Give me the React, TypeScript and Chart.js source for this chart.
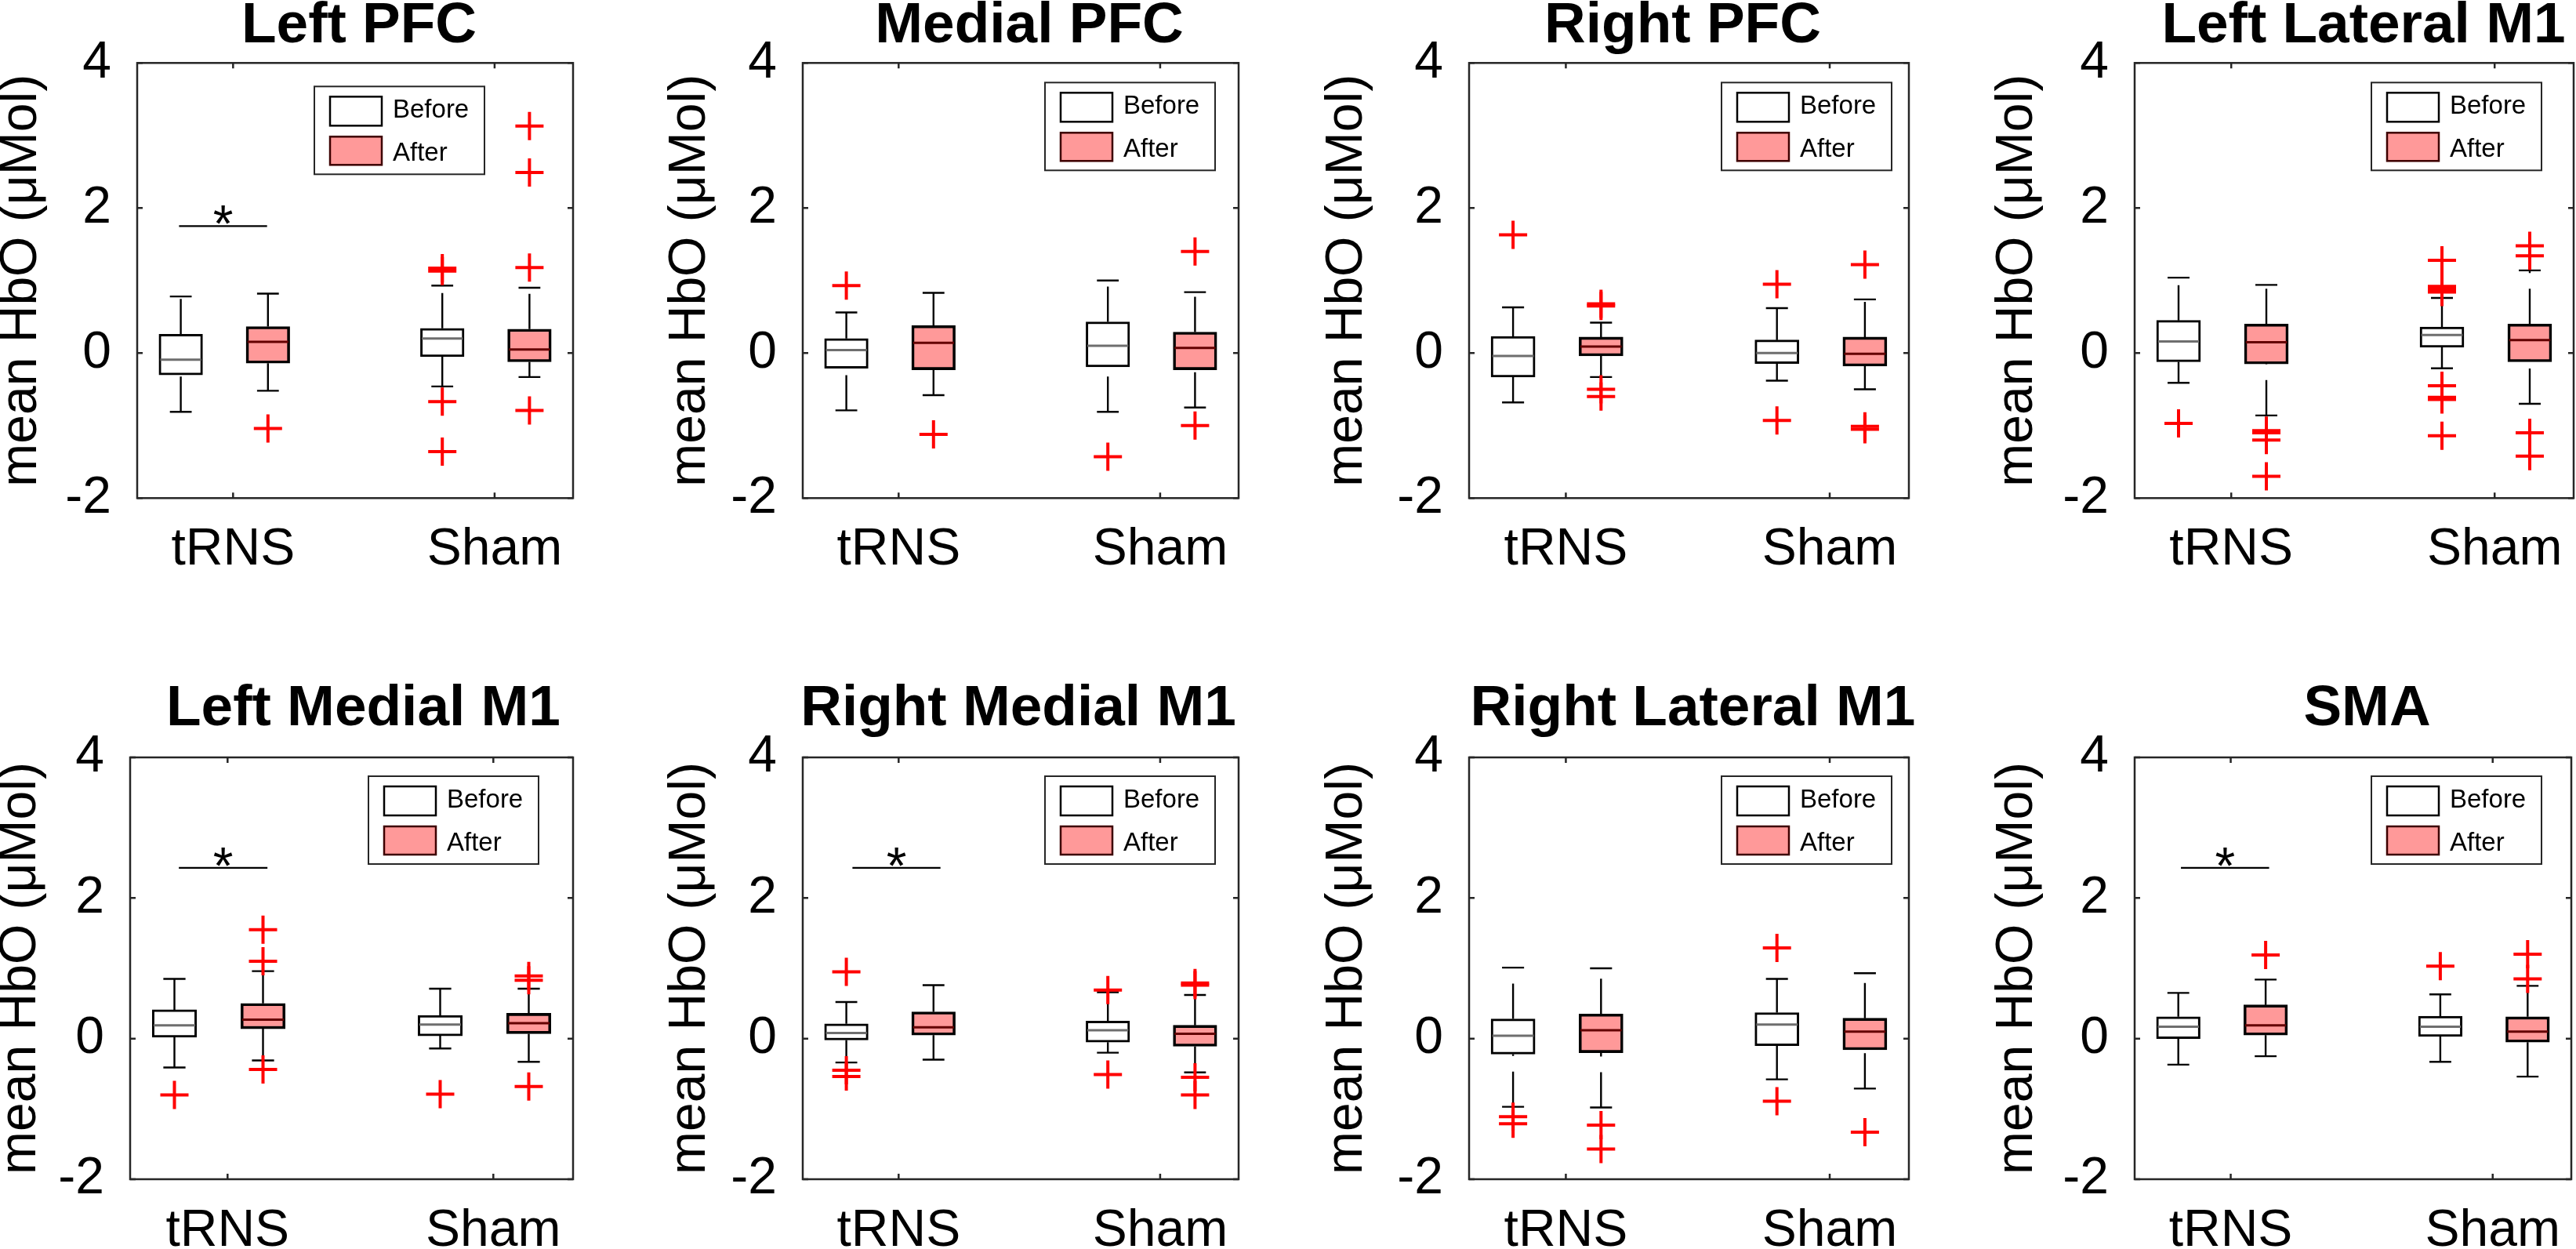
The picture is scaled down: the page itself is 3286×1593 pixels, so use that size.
import React, { useEffect, useRef } from 'react';
import { Chart, registerables } from 'chart.js';

Chart.register(...registerables);

const FONT = '"Liberation Sans", Arial, Helvetica, sans-serif';

// ---------------- data ----------------
const regions = [
  'Left PFC', 'Medial PFC', 'Right PFC', 'Left Lateral M1',
  'Left Medial M1', 'Right Medial M1', 'Right Lateral M1', 'SMA',
];
const groups = ['tRNS', 'Sham'];
const groupTicks = [1.6, 4.6];
const seriesNames = ['Before', 'After'];
const yLabel = 'mean HbO (μMol)';
// box order inside each region: tRNS-Before, tRNS-After, Sham-Before, Sham-After
const boxPositions = [1, 2, 4, 5];
const boxSeries = [0, 1, 0, 1];

const lowerWhisker = [
  [-0.81, -0.52, -0.46, -0.33],
  [-0.79, -0.58, -0.81, -0.75],
  [-0.68, -0.33, -0.38, -0.50],
  [-0.41, -0.86, -0.21, -0.70],
  [-0.41, -0.31, -0.14, -0.33],
  [-0.34, -0.30, -0.20, -0.48],
  [-0.97, -0.98, -0.58, -0.71],
  [-0.37, -0.25, -0.33, -0.54],
];
const q1 = [
  [-0.30, -0.14, -0.05, -0.12],
  [-0.21, -0.23, -0.19, -0.23],
  [-0.33, -0.04, -0.145, -0.18],
  [-0.12, -0.15, 0.08, -0.12],
  [0.02, 0.14, 0.04, 0.07],
  [-0.02, 0.05, -0.05, -0.11],
  [-0.22, -0.20, -0.10, -0.16],
  [0.00, 0.05, 0.03, -0.05],
];
const median = [
  [-0.09, 0.155, 0.20, 0.05],
  [0.04, 0.14, 0.10, 0.07],
  [-0.04, 0.09, 0.00, -0.01],
  [0.16, 0.15, 0.25, 0.18],
  [0.19, 0.27, 0.20, 0.22],
  [0.08, 0.16, 0.12, 0.07],
  [0.04, 0.12, 0.20, 0.10],
  [0.17, 0.19, 0.17, 0.10],
];
const q3 = [
  [0.26, 0.365, 0.34, 0.33],
  [0.20, 0.38, 0.43, 0.29],
  [0.23, 0.22, 0.18, 0.22],
  [0.45, 0.40, 0.36, 0.40],
  [0.41, 0.50, 0.33, 0.36],
  [0.21, 0.38, 0.25, 0.19],
  [0.28, 0.35, 0.37, 0.29],
  [0.31, 0.48, 0.32, 0.31],
];
const upperWhisker = [
  [0.78, 0.82, 0.93, 0.90],
  [0.56, 0.83, 1.00, 0.84],
  [0.63, 0.42, 0.62, 0.74],
  [1.04, 0.94, 0.76, 1.14],
  [0.85, 0.96, 0.71, 0.71],
  [0.52, 0.76, 0.66, 0.62],
  [1.01, 1.00, 0.85, 0.93],
  [0.65, 0.84, 0.63, 0.75],
];
const outliers = [
  [[], [-1.04], [1.17, 1.13, -0.67, -1.36], [3.13, 2.49, 1.18, -0.79]],
  [[0.93], [-1.12], [-1.43], [1.40, -1.00]],
  [[1.63], [0.68, 0.65, -0.50, -0.60], [0.95, -0.93], [1.22, -1.01, -1.05]],
  [[-0.97], [-1.07, -1.10, -1.20, -1.70], [1.28, 0.92, 0.88, 0.84, -0.45, -0.61, -0.64, -1.14], [1.48, 1.34, -1.10, -1.42]],
  [[-0.80], [1.55, 1.10, -0.44], [-0.79], [0.89, 0.83, -0.68]],
  [[0.95, -0.45, -0.54], [], [0.69, -0.51], [0.79, 0.76, -0.55, -0.80]],
  [[-1.11, -1.21], [-1.23, -1.57], [1.29, -0.89], [-1.33]],
  [[], [1.19], [1.03], [1.20, 0.85]],
];
// significance bar (tRNS Before vs After)
const sigLevel = [1.75, null, null, null, 2.43, 2.43, null, 2.43];
const sigFrom = [0.98, null, null, null, 1.05, 1.07, null, 1.03];
const sigTo = [1.99, null, null, null, 2.05, 2.08, null, 2.04];

// ---------------- layout / style ----------------
const AXES_X = [
  [175, 731], [1024, 1580], [1874, 2435], [2723, 3283],
  [166, 731], [1024, 1580], [1874, 2435], [2723, 3280],
];
const ROWS = [
  { canvasTop: -20, canvasH: 800, axTop: 80.3, axBottom: 635.3, titleBaseline: 59 },
  { canvasTop: 820, canvasH: 773, axTop: 966, axBottom: 1504, titleBaseline: 930 },
];
const TITLE_SHIFT = [5, 11, -8, 12, 15, -3, 5, 18];
const YLABEL_OFFSET = [147, 143, 155, 149, 139, 143, 155, 149];
const LEGEND_POS = [[113, 30], [30, 25], [22, 25], [41, 25], [44, 24], [30, 24], [22, 24], [38, 24]];
const Y_AXIS_W = 200;
const TICK_SIZE = 66;
const TITLE_SIZE = 73;
const AFTER_FILL = '#FF9999';
const MEDIAN_COLORS = ['#6e6e6e', '#640000'];
const BOX_FILLS = ['#FFFFFF', AFTER_FILL];
const BOX_BORDER_W = [3, 3.6];
const AXIS_COLOR = '#262626';

function geometry(i: number) {
  const row = ROWS[i < 4 ? 0 : 1];
  const [L, R] = AXES_X[i];
  const rightW = Y_AXIS_W + 2 * TITLE_SHIFT[i];
  const canvasLeft = L - Y_AXIS_W;
  const canvasW = R - L + Y_AXIS_W + rightW;
  const titleLH = TITLE_SIZE * 1.2;
  const titleMid = row.titleBaseline - 0.3465 * TITLE_SIZE - row.canvasTop;
  const titlePadTop = titleMid - titleLH / 2;
  const titlePadBottom = row.axTop - row.canvasTop - titlePadTop - titleLH;
  const xAxisH = row.canvasTop + row.canvasH - row.axBottom;
  const yTitlePad = Y_AXIS_W - (TICK_SIZE * 1.2) / 2 - YLABEL_OFFSET[i];
  return {
    canvasLeft, canvasW, canvasTop: row.canvasTop, canvasH: row.canvasH, rightW,
    titlePadTop, titlePadBottom, xAxisH, yTitlePad, barThickness: (R - L) / 10,
  };
}

const matlabPlugin = {
  id: 'matlab',
  afterDatasetsDraw(chart: any, _args: any, opts: any) {
    const { ctx, chartArea: a, scales } = chart;
    const x = scales.x;
    const y = scales.y;
    ctx.save();
    // significance asterisk
    if (opts.sigLevel !== null && opts.sigLevel !== undefined) {
      const cx = x.getPixelForValue((opts.sigFrom + opts.sigTo) / 2);
      const cy = y.getPixelForValue(opts.sigLevel);
      ctx.fillStyle = '#000';
      ctx.font = `${TICK_SIZE}px ${FONT}`;
      ctx.textAlign = 'center';
      ctx.textBaseline = 'alphabetic';
      ctx.fillText('*', cx, cy + 20);
    }
    // axes frame
    ctx.strokeStyle = AXIS_COLOR;
    ctx.lineWidth = 2.5;
    ctx.setLineDash([]);
    ctx.strokeRect(a.left, a.top, a.right - a.left, a.bottom - a.top);
    // inward ticks
    ctx.beginPath();
    x.ticks.forEach((t: any) => {
      const px = x.getPixelForValue(t.value);
      ctx.moveTo(px, a.bottom); ctx.lineTo(px, a.bottom - 7);
      ctx.moveTo(px, a.top); ctx.lineTo(px, a.top + 7);
    });
    y.ticks.forEach((t: any) => {
      const py = y.getPixelForValue(t.value);
      ctx.moveTo(a.left, py); ctx.lineTo(a.left + 7, py);
      ctx.moveTo(a.right, py); ctx.lineTo(a.right - 7, py);
    });
    ctx.stroke();
    // legend
    const LW = 217, LH = 112;
    const lx = a.right - opts.legendRight - LW;
    const ly = a.top + opts.legendTop;
    ctx.fillStyle = '#fff';
    ctx.fillRect(lx, ly, LW, LH);
    ctx.lineWidth = 2;
    ctx.strokeStyle = AXIS_COLOR;
    ctx.strokeRect(lx, ly, LW, LH);
    ctx.lineWidth = 2.5;
    ctx.fillStyle = BOX_FILLS[0];
    ctx.fillRect(lx + 20, ly + 13, 66, 37);
    ctx.strokeStyle = '#000';
    ctx.strokeRect(lx + 20, ly + 13, 66, 37);
    ctx.fillStyle = BOX_FILLS[1];
    ctx.fillRect(lx + 20, ly + 64, 66, 36);
    ctx.strokeStyle = '#3d0000';
    ctx.strokeRect(lx + 20, ly + 64, 66, 36);
    ctx.fillStyle = '#000';
    ctx.font = `33px ${FONT}`;
    ctx.textAlign = 'left';
    ctx.textBaseline = 'alphabetic';
    ctx.fillText(seriesNames[0], lx + 100, ly + 40);
    ctx.fillText(seriesNames[1], lx + 100, ly + 95);
    ctx.restore();
  },
};

function buildConfig(i: number, g: ReturnType<typeof geometry>) {
  const datasets: any[] = [];
  const gap = (c: number) => ({ x: c, y: null });
  for (let s = 0; s < 2; s++) {
    const idx = [0, 1, 2, 3].filter((b) => boxSeries[b] === s);
    // boxes
    datasets.push({
      type: 'bar',
      label: seriesNames[s],
      data: idx.map((b) => ({ x: boxPositions[b], y: [q1[i][b], q3[i][b]] })),
      backgroundColor: BOX_FILLS[s],
      borderColor: '#000',
      borderWidth: BOX_BORDER_W[s],
      borderSkipped: false,
      grouped: false,
      barThickness: g.barThickness,
      order: 10,
    });
    // whiskers (dashed, drawn from low value to high value)
    const wPts: any[] = [];
    const cPts: any[] = [];
    const mPts: any[] = [];
    idx.forEach((b) => {
      const c = boxPositions[b];
      wPts.push({ x: c, y: q3[i][b] }, { x: c, y: upperWhisker[i][b] }, gap(c));
      wPts.push({ x: c, y: lowerWhisker[i][b] }, { x: c, y: q1[i][b] }, gap(c));
      cPts.push({ x: c - 0.125, y: upperWhisker[i][b] }, { x: c + 0.125, y: upperWhisker[i][b] }, gap(c));
      cPts.push({ x: c - 0.125, y: lowerWhisker[i][b] }, { x: c + 0.125, y: lowerWhisker[i][b] }, gap(c));
      mPts.push({ x: c - 0.235, y: median[i][b] }, { x: c + 0.235, y: median[i][b] }, gap(c));
    });
    const lineBase = {
      type: 'line', showLine: true, pointRadius: 0, fill: false, tension: 0,
      spanGaps: false, borderCapStyle: 'butt',
    };
    datasets.push({ ...lineBase, label: 'whisker', data: wPts, borderColor: '#000', borderWidth: 2.4, borderDash: [45, 20], order: 8 });
    datasets.push({ ...lineBase, label: 'cap', data: cPts, borderColor: '#000', borderWidth: 2.4, order: 7 });
    datasets.push({ ...lineBase, label: 'median', data: mPts, borderColor: MEDIAN_COLORS[s], borderWidth: 3, order: 6 });
  }
  // outliers
  const oPts: any[] = [];
  [0, 1, 2, 3].forEach((b) => outliers[i][b].forEach((v) => oPts.push({ x: boxPositions[b], y: v })));
  datasets.push({
    type: 'line', label: 'outliers', data: oPts, showLine: false,
    pointStyle: 'cross', pointRadius: 18, pointBorderWidth: 4,
    pointBorderColor: '#FF0000', pointBackgroundColor: '#FF0000', borderColor: '#FF0000', order: 1,
  });
  // significance line
  if (sigLevel[i] !== null) {
    datasets.push({
      type: 'line', label: 'sig', showLine: true, pointRadius: 0, tension: 0,
      data: [{ x: sigFrom[i], y: sigLevel[i] }, { x: sigTo[i], y: sigLevel[i] }],
      borderColor: '#000', borderWidth: 2.2, order: 5,
    });
  }

  return {
    type: 'bar',
    data: { datasets },
    plugins: [matlabPlugin],
    options: {
      animation: false,
      responsive: false,
      devicePixelRatio: 1,
      events: [],
      layout: { padding: 0 },
      plugins: {
        legend: { display: false },
        tooltip: { enabled: false },
        title: {
          display: true,
          text: regions[i],
          color: '#000',
          font: { family: FONT, size: TITLE_SIZE, weight: 'bold', lineHeight: 1.2 },
          padding: { top: g.titlePadTop, bottom: g.titlePadBottom },
        },
        matlab: {
          sigLevel: sigLevel[i], sigFrom: sigFrom[i], sigTo: sigTo[i],
          legendRight: LEGEND_POS[i][0], legendTop: LEGEND_POS[i][1],
        },
      },
      scales: {
        x: {
          type: 'linear',
          min: 0.5,
          max: 5.5,
          offset: false,
          grid: { display: false, drawTicks: false },
          border: { display: false },
          afterBuildTicks: (scale: any) => {
            scale.ticks = groupTicks.map((v) => ({ value: v }));
          },
          afterFit: (scale: any) => { scale.height = g.xAxisH; },
          ticks: {
            autoSkip: false,
            maxRotation: 0,
            padding: 27,
            color: '#000',
            font: { family: FONT, size: TICK_SIZE },
            callback: (v: number) => {
              const k = groupTicks.indexOf(v);
              return k >= 0 ? groups[k] : '';
            },
          },
        },
        y: {
          type: 'linear',
          position: 'left',
          min: -2,
          max: 4,
          grid: { display: false, drawTicks: false },
          border: { display: false },
          afterFit: (scale: any) => { scale.width = Y_AXIS_W; },
          ticks: {
            stepSize: 2,
            padding: 33,
            color: '#000',
            font: { family: FONT, size: TICK_SIZE },
          },
          title: {
            display: true,
            text: yLabel,
            color: '#000',
            font: { family: FONT, size: TICK_SIZE, lineHeight: 1.2 },
            padding: { top: g.yTitlePad, bottom: 0 },
          },
        },
        // empty right axis so the title is centred over the plot box
        yRight: {
          type: 'linear',
          position: 'right',
          display: true,
          min: -2,
          max: 4,
          grid: { display: false, drawTicks: false },
          border: { display: false },
          ticks: { display: false },
          afterFit: (scale: any) => { scale.width = g.rightW; },
        },
      },
    },
  };
}

function Panel({ index }: { index: number }) {
  const ref = useRef<HTMLCanvasElement | null>(null);
  const g = geometry(index);
  useEffect(() => {
    const chart = new Chart(ref.current as HTMLCanvasElement, buildConfig(index, g) as any);
    return () => chart.destroy();
  }, [index]);
  return (
    <canvas
      ref={ref}
      width={g.canvasW}
      height={g.canvasH}
      style={{ position: 'absolute', left: g.canvasLeft, top: g.canvasTop, width: g.canvasW, height: g.canvasH }}
    />
  );
}

export default function App() {
  return (
    <div
      style={{
        position: 'absolute', left: 0, top: 0, width: 3286, height: 1593,
        overflow: 'hidden', background: '#fff',
      }}
    >
      {regions.map((_, i) => (
        <Panel key={i} index={i} />
      ))}
    </div>
  );
}
